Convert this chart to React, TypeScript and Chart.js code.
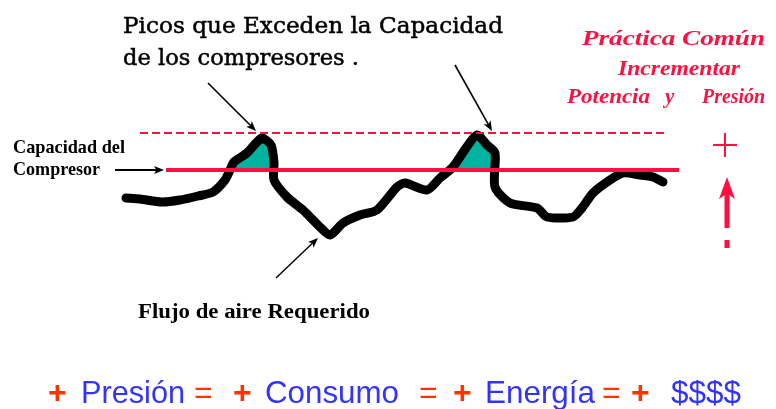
import React, { useEffect, useRef } from "react";
import { Chart, registerables } from "chart.js";

Chart.register(...registerables);

// Flow demand curve (x = time position, y = flow level; canvas height 409 is the y max)
const flowX = [126, 140, 162, 180, 198, 213, 225, 230, 234, 247, 256, 262, 271, 274, 274, 287, 303, 320, 330, 343, 360, 377, 397, 405, 427, 440, 453, 466, 477, 487, 495, 495, 510, 537, 547, 573, 582, 593, 610, 623, 640, 653, 663];
const flowY = [211, 210, 207, 209, 213, 217, 229, 239, 247, 256, 266, 271, 264, 246, 229, 212, 199, 182, 174, 186, 194, 199, 222, 226, 219, 231, 242, 261, 274, 264, 256, 222, 206, 201, 192, 192, 201, 216, 229, 236, 234, 232, 227];

const capacityLevel = 239;
const capacityRange = [166, 679];
const peakLevel = 276;
const peakRange = [140, 668];

const X_MAX = 776;
const Y_MAX = 409;

const RED = "#ff1040";
const TEAL = "#00b3a0";

export default function App() {
  const ref = useRef<HTMLCanvasElement | null>(null);

  useEffect(() => {
    document.body.style.margin = "0";
    const canvas = ref.current!;
    const toPx = (chart: any, x: number, y: number) => [
      chart.scales.x.getPixelForValue(x),
      chart.scales.y.getPixelForValue(y),
    ];

    const fitText = (
      ctx: CanvasRenderingContext2D,
      text: string,
      x: number,
      baseline: number,
      font: string,
      color: string,
      width?: number,
      stroke?: number
    ) => {
      ctx.save();
      ctx.font = font;
      ctx.fillStyle = color;
      ctx.strokeStyle = color;
      ctx.textBaseline = "alphabetic";
      ctx.textAlign = "left";
      const w = ctx.measureText(text).width;
      ctx.translate(x, baseline);
      if (width) ctx.scale(width / w, 1);
      ctx.fillText(text, 0, 0);
      if (stroke) {
        ctx.lineWidth = stroke;
        ctx.strokeText(text, 0, 0);
      }
      ctx.restore();
    };

    const arrow = (
      ctx: CanvasRenderingContext2D,
      x1: number,
      y1: number,
      x2: number,
      y2: number,
      color: string,
      lw: number,
      head: number,
      headW: number
    ) => {
      const a = Math.atan2(y2 - y1, x2 - x1);
      ctx.save();
      ctx.strokeStyle = color;
      ctx.fillStyle = color;
      ctx.lineWidth = lw;
      ctx.beginPath();
      ctx.moveTo(x1, y1);
      ctx.lineTo(x2 - Math.cos(a) * head * 0.7, y2 - Math.sin(a) * head * 0.7);
      ctx.stroke();
      ctx.beginPath();
      ctx.moveTo(x2, y2);
      ctx.lineTo(
        x2 - Math.cos(a) * head + Math.cos(a + Math.PI / 2) * headW,
        y2 - Math.sin(a) * head + Math.sin(a + Math.PI / 2) * headW
      );
      ctx.lineTo(x2 - Math.cos(a) * head * 0.75, y2 - Math.sin(a) * head * 0.75);
      ctx.lineTo(
        x2 - Math.cos(a) * head - Math.cos(a + Math.PI / 2) * headW,
        y2 - Math.sin(a) * head - Math.sin(a + Math.PI / 2) * headW
      );
      ctx.closePath();
      ctx.fill();
      ctx.restore();
    };

    const annotations = {
      id: "annotations",
      afterDraw(chart: any) {
        const ctx: CanvasRenderingContext2D = chart.ctx;
        const SERIF = '"DejaVu Serif", serif';
        const LSERIF = '"Liberation Serif", serif';
        const SANS = '"Liberation Sans", Arial, sans-serif';

        fitText(ctx, "Picos que Exceden la Capacidad", 123, 33, `23px ${SERIF}`, "#000", 380, 0.5);
        fitText(ctx, "de los compresores .", 123, 65, `23px ${SERIF}`, "#000", 236, 0.5);

        fitText(ctx, "Capacidad del", 13, 153, `bold 19px ${LSERIF}`, "#000", 112);
        fitText(ctx, "Compresor", 13, 175, `bold 19px ${LSERIF}`, "#000", 87);

        fitText(ctx, "Flujo de aire Requerido", 138, 318, `bold 20px ${LSERIF}`, "#000", 232);

        const rf = `italic bold 21px ${LSERIF}`;
        fitText(ctx, "Práctica Común", 582, 45, rf, RED, 183);
        fitText(ctx, "Incrementar", 618, 75, rf, RED, 122);
        fitText(ctx, "Potencia", 567, 103, rf, RED, 83);
        fitText(ctx, "y", 665, 103, rf, RED);
        fitText(ctx, "Presión", 702, 103, rf, RED, 63);

        const OR = "#ff3300";
        const BL = "#3333ff";
        const bf = `32px ${SANS}`;
        const pf = `bold 32px ${SANS}`;
        fitText(ctx, "+", 48, 403, pf, OR);
        fitText(ctx, "=", 194, 403, bf, OR);
        fitText(ctx, "+", 233, 403, pf, OR);
        fitText(ctx, "=", 419, 403, bf, OR);
        fitText(ctx, "+", 453, 403, pf, OR);
        fitText(ctx, "=", 602, 403, bf, OR);
        fitText(ctx, "+", 631, 403, pf, OR);
        fitText(ctx, "Presión", 81, 403, bf, BL, 104);
        fitText(ctx, "Consumo", 265, 403, bf, BL, 134);
        fitText(ctx, "Energía", 485, 403, bf, BL, 110);
        fitText(ctx, "$$$$", 671, 403, bf, BL, 70);

        // black annotation arrows (data-space endpoints)
        const a1 = [...toPx(chart, 208, 326), ...toPx(chart, 256, 278)];
        arrow(ctx, a1[0], a1[1], a1[2], a1[3], "#000", 1.6, 10, 4);
        const a2 = [...toPx(chart, 455, 344), ...toPx(chart, 492, 278)];
        arrow(ctx, a2[0], a2[1], a2[2], a2[3], "#000", 1.6, 10, 4);
        const a3 = [...toPx(chart, 115, capacityLevel), ...toPx(chart, 164, capacityLevel)];
        arrow(ctx, a3[0], a3[1], a3[2], a3[3], "#000", 2, 10, 4);
        const a4 = [...toPx(chart, 276, 131), ...toPx(chart, 318, 171)];
        arrow(ctx, a4[0], a4[1], a4[2], a4[3], "#000", 1.4, 10, 4);

        // red "+" and upward arrow on the right
        const [px, py] = toPx(chart, 725, 264);
        ctx.save();
        ctx.strokeStyle = RED;
        ctx.lineWidth = 2;
        ctx.beginPath();
        ctx.moveTo(px - 12, py);
        ctx.lineTo(px + 12, py);
        ctx.moveTo(px, py - 12);
        ctx.lineTo(px, py + 12);
        ctx.stroke();
        ctx.restore();
        const [ax, ayTop] = toPx(chart, 727, 232);
        const [, ayBot] = toPx(chart, 727, 181);
        arrow(ctx, ax, ayBot, ax, ayTop, RED, 5, 22, 8);
        const [, d1] = toPx(chart, 727, 169);
        const [, d2] = toPx(chart, 727, 161);
        ctx.save();
        ctx.strokeStyle = RED;
        ctx.lineWidth = 5;
        ctx.beginPath();
        ctx.moveTo(ax, d1);
        ctx.lineTo(ax, d2);
        ctx.stroke();
        ctx.restore();
      },
    };

    const bg = {
      id: "bg",
      beforeDraw(chart: any) {
        const ctx = chart.ctx;
        ctx.save();
        ctx.fillStyle = "#fff";
        ctx.fillRect(0, 0, chart.width, chart.height);
        ctx.restore();
      },
    };

    const chart = new Chart(canvas, {
      type: "line",
      data: {
        datasets: [
          {
            label: "Capacidad del Compresor",
            data: capacityRange.map((x) => ({ x, y: capacityLevel })),
            borderColor: RED,
            borderWidth: 4,
            pointRadius: 0,
            fill: false,
            order: 0,
          },
          {
            label: "Picos",
            data: peakRange.map((x) => ({ x, y: peakLevel })),
            borderColor: RED,
            borderWidth: 2,
            borderDash: [8, 4],
            pointRadius: 0,
            fill: false,
            order: 1,
          },
          {
            label: "Flujo de aire Requerido",
            data: flowX.map((x, i) => ({ x, y: flowY[i] })),
            borderColor: "#000",
            borderWidth: 9,
            borderJoinStyle: "round",
            borderCapStyle: "round",
            tension: 0.25,
            pointRadius: 0,
            fill: { value: capacityLevel, above: TEAL, below: "rgba(0,0,0,0)" },
            order: 2,
          },
        ],
      },
      options: {
        responsive: false,
        animation: false,
        devicePixelRatio: 1,
        layout: { padding: 0 },
        plugins: { legend: { display: false }, tooltip: { enabled: false } },
        scales: {
          x: { type: "linear", min: 0, max: X_MAX, display: false },
          y: { type: "linear", min: 0, max: Y_MAX, display: false },
        },
      } as any,
      plugins: [bg, annotations],
    });
    return () => chart.destroy();
  }, []);

  return (
    <div style={{ position: "absolute", left: 0, top: 0, width: 776, height: 409 }}>
      <canvas ref={ref} width={776} height={409} style={{ display: "block" }} />
    </div>
  );
}
